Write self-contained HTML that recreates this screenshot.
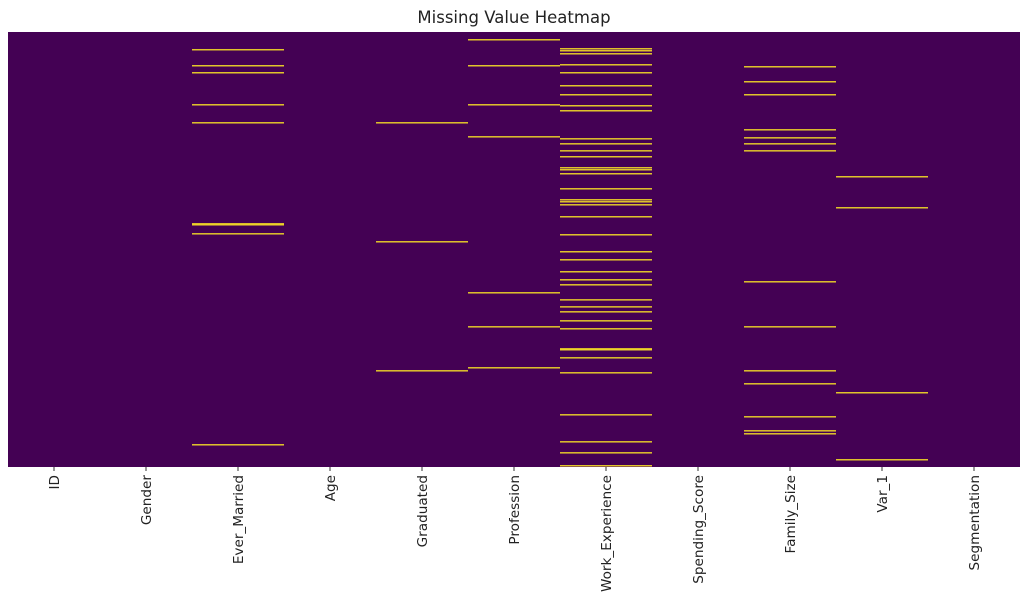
<!DOCTYPE html>
<html><head><meta charset="utf-8"><style>
body{margin:0;background:#fff;font-family:"DejaVu Sans","Liberation Sans",sans-serif}
</style></head><body>
<svg id="chart" width="1024" height="609" font-family="DejaVu Sans, Liberation Sans, sans-serif">
<text x="514" y="23" text-anchor="middle" font-size="16.5" fill="#222">Missing Value Heatmap</text>
<g id="plot"></g>
</svg>
<script>
const columns=["ID","Gender","Ever_Married","Age","Graduated","Profession","Work_Experience","Spending_Score","Family_Size","Var_1","Segmentation"];
const totalRows=8068;
// missing positions expressed as row indices
const missingEverMarried=[315,612,742,1336,1670,3543,3562,3729,7642];
const missingGraduated=[1670,3877,6270];
const missingProfession=[130,612,1336,1930,4823,5454,6214];
const missingWorkExperience=[297,334,390,594,742,983,1150,1354,1447,1967,2060,2190,2300,2504,2541,2615,2894,3098,3135,3191,3413,3747,4062,4211,4433,4582,4675,4954,5084,5176,5343,5491,5862,5880,6029,6307,7086,7587,7791,8031];
const missingFamilySize=[631,909,1150,1800,1949,2060,2190,4619,5454,6270,6511,7123,7383,7438];
const missingVar1=[2671,3246,6677,7920];
const missing=[[],[],missingEverMarried,[],missingGraduated,missingProfession,missingWorkExperience,[],missingFamilySize,missingVar1,[]];
const X0=8,X1=1020,Y0=32,Y1=467;
const cw=(X1-X0)/columns.length;
const xs=i=>X0+i*cw;
const ys=r=>Y0+(r/totalRows)*(Y1-Y0);
const NS="http://www.w3.org/2000/svg";
const g=document.getElementById('plot');
const bg=document.createElementNS(NS,'rect');
bg.setAttribute('x',X0);bg.setAttribute('y',Y0);bg.setAttribute('width',X1-X0);bg.setAttribute('height',Y1-Y0);bg.setAttribute('fill','#440154');


g.appendChild(bg);
missing.forEach((arr,i)=>{
  arr.forEach(r=>{
    const c=document.createElementNS(NS,'rect');
    c.setAttribute('x',xs(i));c.setAttribute('y',ys(r));c.setAttribute('width',cw);c.setAttribute('height',1.5);c.setAttribute('fill','#fde725');c.setAttribute('opacity','0.85');
    
    
    g.appendChild(c);
  });
  const cx=xs(i)+cw/2;
  const t=document.createElementNS(NS,'line');
  t.setAttribute('x1',cx);t.setAttribute('x2',cx);t.setAttribute('y1',Y1);t.setAttribute('y2',Y1+4);t.setAttribute('stroke','#333');
  
  
  g.appendChild(t);
  const l=document.createElementNS(NS,'text');
  l.setAttribute('transform','translate('+(cx+4.8)+','+(Y1+8)+') rotate(-90)');
  l.setAttribute('text-anchor','end');l.setAttribute('font-size','13.6');l.setAttribute('fill','#222');
  l.textContent=columns[i];
  
  
  g.appendChild(l);
});
</script>
</body></html>
